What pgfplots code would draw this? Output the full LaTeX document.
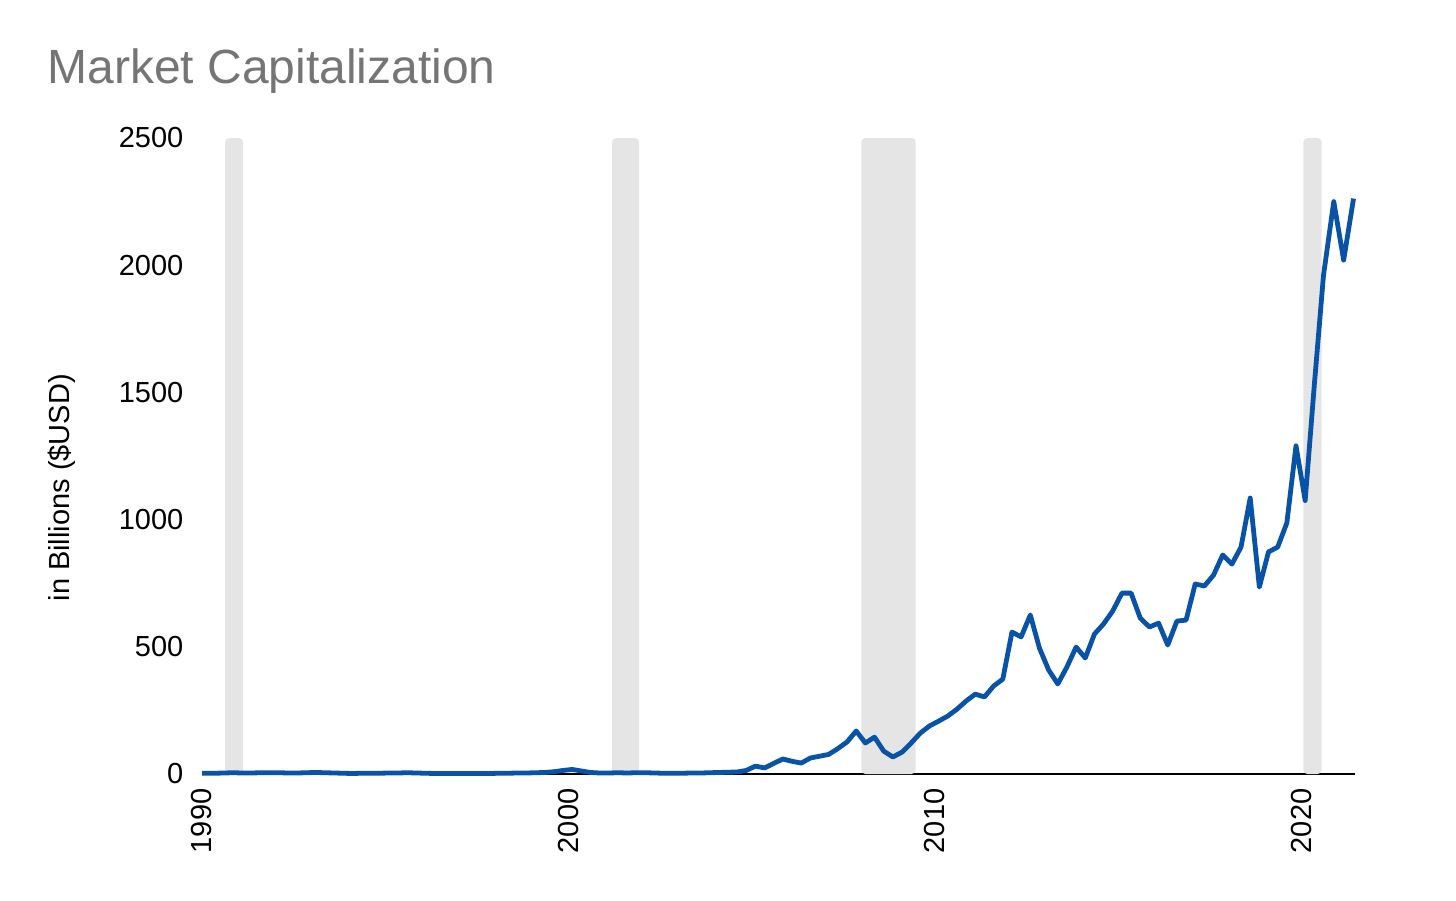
\documentclass[border=0pt]{standalone}
\usepackage{pgfplots}
\pgfplotsset{compat=1.18}
\usepackage{fontspec}
\setmainfont{Liberation Sans}
\definecolor{linecol}{RGB}{8,82,168}
\definecolor{bandcol}{RGB}{229,229,229}
\definecolor{titlecol}{RGB}{117,117,117}
\begin{document}
\begin{tikzpicture}
\useasboundingbox (0,0) rectangle (728pt,-450pt);
\node[anchor=base west, inner sep=0pt, text=titlecol, font=\fontsize{24}{28}\selectfont] at (23.5pt,-41.5pt) {Market Capitalization};
\begin{axis}[
  at={(101pt,-387pt)}, anchor=south west,
  scale only axis, width=576.5pt, height=318pt,
  xmin=1990, xmax=2021.46, ymin=0, ymax=2500,
  axis x line=bottom, axis y line=left,
  x axis line style={-, black, line width=0.8pt},
  y axis line style={draw=none},
  tick style={draw=none},
  xtick={1990,2000,2010,2020},
  ytick={0,500,1000,1500,2000,2500},
  xticklabels={1990,2000,2010,2020},
  /pgf/number format/assume math mode=true,
  /pgf/number format/1000 sep={},
  yticklabel style={font=\fontsize{14.5}{16}\selectfont, anchor=east, inner sep=0pt, xshift=-7pt},
  xticklabel style={font=\fontsize{14.5}{16}\selectfont, rotate=90, anchor=east, inner sep=0pt, xshift=-5pt},
  ylabel={in Billions (\$USD)},
  ylabel style={font=\fontsize{14.5}{16}\selectfont, at={(rel axis cs:-0.1214,0.45)}, anchor=center},
  clip=false,
]
\addplot[fill=bandcol, draw=none, rounded corners=2pt] coordinates {(1990.63,0) (1990.63,2500) (1991.12,2500) (1991.12,0)} --cycle;
\addplot[fill=bandcol, draw=none, rounded corners=2pt] coordinates {(2001.19,0) (2001.19,2500) (2001.93,2500) (2001.93,0)} --cycle;
\addplot[fill=bandcol, draw=none, rounded corners=2pt] coordinates {(2007.99,0) (2007.99,2500) (2009.47,2500) (2009.47,0)} --cycle;
\addplot[fill=bandcol, draw=none, rounded corners=2pt] coordinates {(2020.05,0) (2020.05,2500) (2020.55,2500) (2020.55,0)} --cycle;
\addplot[color=linecol, line width=2.4pt, line join=round] coordinates {
(1990.00,3) (1990.35,3) (1990.60,4) (1990.85,5)
(1991.10,4) (1991.35,4) (1991.60,5) (1991.85,5)
(1992.10,5) (1992.35,4) (1992.60,4) (1992.85,5)
(1993.10,6) (1993.35,5) (1993.60,4) (1993.85,3)
(1994.10,2) (1994.35,3) (1994.60,3) (1994.85,3)
(1995.10,4) (1995.35,4) (1995.60,5) (1995.85,4)
(1996.10,3) (1996.35,2) (1996.60,2) (1996.85,2)
(1997.10,2) (1997.35,2) (1997.60,2) (1997.85,2)
(1998.10,3) (1998.35,3) (1998.60,4) (1998.85,4)
(1999.10,5) (1999.35,6) (1999.60,9) (1999.85,14)
(2000.10,18) (2000.35,12) (2000.60,6) (2000.85,4)
(2001.10,4) (2001.35,5) (2001.60,4) (2001.85,5)
(2002.10,5) (2002.35,4) (2002.60,3) (2002.85,3)
(2003.10,3) (2003.35,4) (2003.60,4) (2003.85,5)
(2004.10,6) (2004.35,7) (2004.60,8) (2004.85,14)
(2005.10,31) (2005.35,24) (2005.60,42) (2005.85,59)
(2006.10,50) (2006.35,43) (2006.60,63) (2006.85,70)
(2007.10,77) (2007.35,100) (2007.60,126) (2007.85,169)
(2008.10,122) (2008.35,145) (2008.60,90) (2008.85,67)
(2009.10,86) (2009.35,122) (2009.60,161) (2009.85,189)
(2010.10,208) (2010.35,228) (2010.60,255) (2010.85,287)
(2011.10,314) (2011.35,303) (2011.60,346) (2011.85,373)
(2012.10,558) (2012.35,539) (2012.60,625) (2012.85,495)
(2013.10,409) (2013.35,354) (2013.60,421) (2013.85,499)
(2014.10,456) (2014.35,550) (2014.60,590) (2014.85,641)
(2015.10,711) (2015.35,711) (2015.60,613) (2015.85,578)
(2016.10,593) (2016.35,507) (2016.60,601) (2016.85,605)
(2017.10,747) (2017.35,739) (2017.60,782) (2017.85,861)
(2018.10,825) (2018.35,892) (2018.60,1085) (2018.85,735)
(2019.10,873) (2019.35,892) (2019.60,987) (2019.85,1290)
(2020.10,1075) (2020.35,1530) (2020.60,1960) (2020.88,2250)
(2021.15,2020) (2021.42,2262)
};
\end{axis}
\end{tikzpicture}
\end{document}
